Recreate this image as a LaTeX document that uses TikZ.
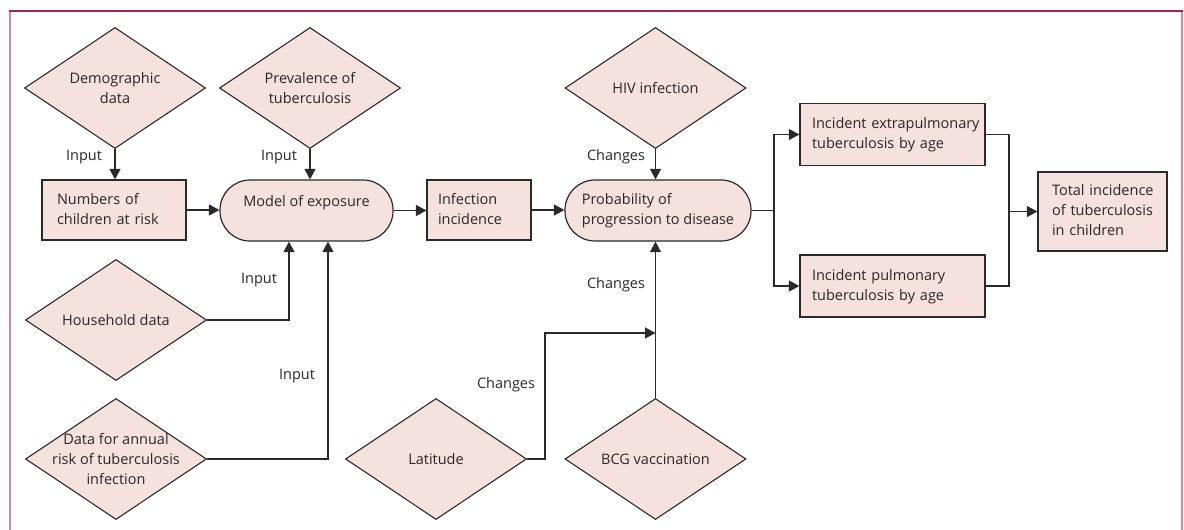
\documentclass[tikz,border=0pt]{standalone}
\usepackage{fontspec}
\setmainfont{Open Sans}
\usetikzlibrary{shapes.geometric,arrows.meta}
\definecolor{bxfill}{HTML}{F5E1DE}
\definecolor{lncol}{HTML}{2A2A2A}
\definecolor{txcol}{HTML}{2A2627}
\definecolor{frtop}{HTML}{A6254C}
\definecolor{frside}{HTML}{D9869F}
\newcommand{\padtext}[2]{\hspace*{#1}\begin{tabular}{@{}l@{}}#2\end{tabular}}
\begin{document}
\begin{tikzpicture}[x=1pt,y=-1pt,
  every node/.style={font=\fontsize{14.5}{20}\selectfont, text=txcol},
  dia/.style={shape=diamond, draw=lncol, fill=bxfill, line width=1.1pt,
    minimum width=181pt, minimum height=121pt, inner sep=-25pt, align=center},
  sbox/.style={rectangle, draw=lncol, fill=bxfill, line width=1.2pt,
    inner xsep=0pt, inner ysep=0pt, align=left},
  pill/.style={rectangle, rounded corners=30pt, draw=lncol, fill=bxfill, line width=1.2pt,
    minimum height=61pt, inner sep=0pt},
  conn/.style={draw=lncol, line width=1.2pt},
  arr/.style={conn, -{Triangle[length=10.5pt,width=11pt]}},
  lbl/.style={inner sep=0pt}
]
\useasboundingbox (0,0) rectangle (1184,530);
% frame
\draw[frside, line width=1.6pt] (10,530) -- (10,11);
\draw[frside, line width=1.6pt] (1182,11) -- (1182,530);
\draw[frtop, line width=1.6pt] (9.2,11) -- (1182.8,11);

% diamonds
\node[dia] (demo) at (115,88) {Demographic\\data};
\node[dia] (prev) at (310,88) {Prevalence of\\tuberculosis};
\node[dia] (hiv) at (655.5,88) {HIV infection};
\node[dia] (hh) at (116,320) {Household data};
\node[dia] (annual) at (116,459) {Data for annual\\risk of tuberculosis\\infection};
\node[dia] (lat) at (436,459) {Latitude};
\node[dia] (bcg) at (655.5,459) {BCG vaccination};

% boxes
\node[sbox, text width=144pt, minimum height=60pt] (num) at (114,210)
  {\padtext{15pt}{Numbers of\\children at risk}};
\node[pill, minimum width=173pt, align=center] (model) at (306.5,210.5)
  {Model of exposure\\\mbox{}};
\node[sbox, text width=104pt, minimum height=60pt] (inf) at (479,210)
  {\padtext{11pt}{Infection\\incidence}};
\node[pill, minimum width=186pt, align=left] (prob) at (658,210.5)
  {Probability of\\progression to disease};
\node[sbox, text width=185pt, minimum height=62pt] (extra) at (892.5,134.5)
  {\padtext{12pt}{Incident extrapulmonary\\tuberculosis by age}};
\node[sbox, text width=185pt, minimum height=62pt] (pulm) at (892.5,286)
  {\padtext{12pt}{Incident pulmonary\\tuberculosis by age}};
\node[sbox, text width=129pt, minimum height=79pt] (tot) at (1102.5,211.5)
  {\padtext{14pt}{Total incidence\\of tuberculosis\\in children}};

% helper coordinates
\coordinate (hx) at (289,0);
\coordinate (ax) at (328,0);
\coordinate (latbend) at (545,0);
\coordinate (latjoin) at (655.5,333);
\coordinate (split) at (774,210.5);
\coordinate (merge) at (1009,211.5);

% connectors
\draw[arr] (demo.south) -- (demo.south |- num.north);
\draw[arr] (prev.south) -- (prev.south |- model.north);
\draw[arr] (num.east) -- (num.east -| model.west);
\draw[arr] (hh.east) -| (hx |- model.south);
\draw[arr] (annual.east) -| (ax |- model.south);
\draw[arr] (model.east) -- (model.east -| inf.west);
\draw[arr] (inf.east) -- (inf.east -| prob.west);
\draw[arr] (hiv.south) -- (hiv.south |- prob.north);
\draw[arr] (bcg.north) -- (bcg.north |- prob.south);
\draw[arr] (lat.east) -| (latbend |- latjoin) -- (latjoin);
\draw[conn] (prob.east) -- (split);
\draw[arr] (split) |- (extra.west);
\draw[arr] (split) |- (pulm.west);
\draw[conn] (extra.east) -| (merge);
\draw[conn] (pulm.east) -| (merge);
\draw[arr] (merge) -- (merge -| tot.west);

% labels
\node[lbl] (l1) at (84,157) {Input};
\node[lbl] (l2) at (279,157) {Input};
\node[lbl] (l3) at (259,280) {Input};
\node[lbl] (l4) at (297,376) {Input};
\node[lbl] (l5) at (616,157) {Changes};
\node[lbl] (l6) at (616,285) {Changes};
\node[lbl] (l7) at (506,385) {Changes};
\end{tikzpicture}
\end{document}
